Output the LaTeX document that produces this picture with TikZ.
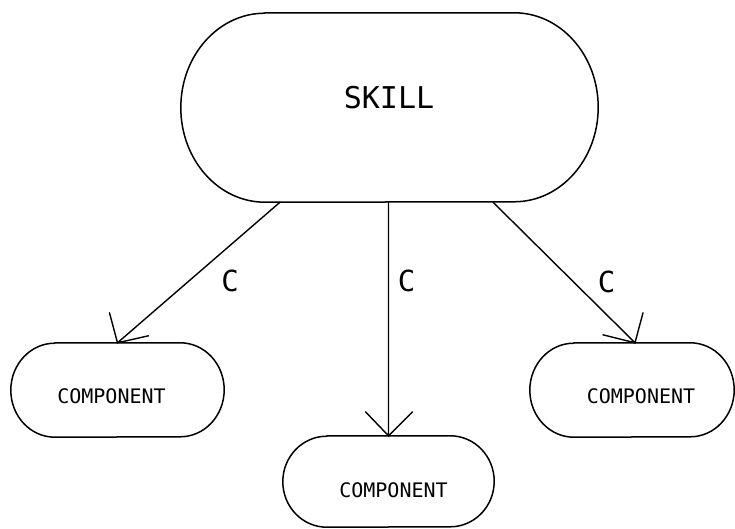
\documentclass[tikz,border=0pt]{standalone}
\usepackage{fontspec}
\newfontfamily\plotfont{DejaVu Sans Mono}
\usetikzlibrary{calc}

\tikzset{
  frame/.style={draw=none, rectangle, inner sep=0pt},
  bigtext/.style={font=\plotfont\fontsize{30}{30}\selectfont, inner sep=0pt},
  smalltext/.style={font=\plotfont\fontsize{20}{20}\selectfont, inner sep=0pt},
  edgetext/.style={font=\plotfont\fontsize{29}{29}\selectfont, inner sep=0pt},
  outline/.style={line width=1.5pt, line join=round},
  link/.style={line width=1.4pt, line cap=round}
}

% pill outline around a frame node: #1 node name, #2 end x radius, #3 end y radius
\newcommand{\pilloutline}[3]{%
  \draw[outline] ([xshift=#2]#1.north west) -- ([xshift=-#2]#1.north east)
    arc[start angle=90, end angle=-90, x radius=#2, y radius=#3]
    -- ([xshift=#2]#1.south west)
    arc[start angle=270, end angle=90, x radius=#2, y radius=#3] -- cycle;}

\begin{document}
\begin{tikzpicture}[x=1pt,y=1pt]
  \useasboundingbox (0,0) rectangle (735,529);

  % frames of the four pills
  \node[frame, minimum width=417pt, minimum height=189pt] (skill) at (389.5,421.5) {};
  \node[frame, minimum width=213pt, minimum height=94pt] (comp1) at (117.5,139) {};
  \node[frame, minimum width=211pt, minimum height=91pt] (comp2) at (388.5,47.5) {};
  \node[frame, minimum width=204pt, minimum height=94pt] (comp3) at (632,139) {};

  \pilloutline{skill}{84pt}{94.5pt}
  \pilloutline{comp1}{44pt}{47pt}
  \pilloutline{comp2}{44pt}{45.5pt}
  \pilloutline{comp3}{44pt}{47pt}

  % texts
  \node[bigtext] (skilltext) at (389,431) {SKILL};
  \node[smalltext] (comp1text) at (111.5,133) {COMPONENT};
  \node[smalltext] (comp2text) at (393.5,39) {COMPONENT};
  \node[smalltext] (comp3text) at (641,133) {COMPONENT};

  % connector end points
  \coordinate (out1) at ($(skill.south)+(-109.5,0)$);
  \coordinate (out2) at ($(skill.south)+(-1,0)$);
  \coordinate (out3) at ($(skill.south)+(103.5,0)$);
  \coordinate (in1) at (comp1.north);
  \coordinate (in2) at (comp2.north);
  \coordinate (in3) at ($(comp3.north)+(3,0)$);

  % connectors with open barbed heads
  \draw[link] (out1) -- (in1) -- ++(-8,30) (in1) -- ++(31,7);
  \draw[link] (out2) -- (in2) -- ++(-23,24) (in2) -- ++(24,24);
  \draw[link] (out3) -- (in3) -- ++(8,30) (in3) -- ++(-32,8);

  % connector labels
  \node[edgetext] (lab1) at (230,248) {C};
  \node[edgetext] (lab2) at (406.5,248) {C};
  \node[edgetext] (lab3) at (606.5,247) {C};
\end{tikzpicture}
\end{document}
